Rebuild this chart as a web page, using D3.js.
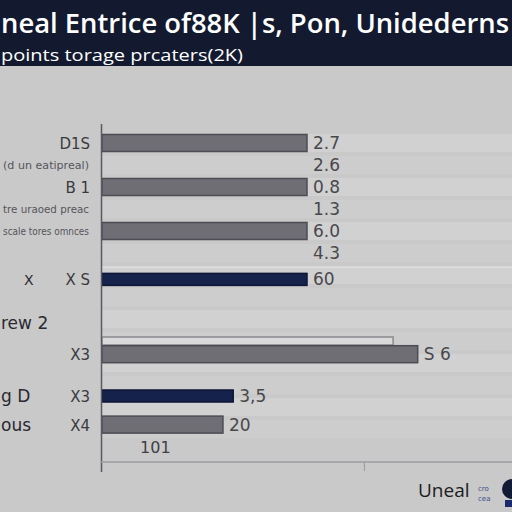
<!DOCTYPE html>
<html>
<head>
<meta charset="utf-8">
<script src="https://cdn.jsdelivr.net/npm/d3@7"></script>
<style>
  html, body { margin: 0; padding: 0; background: #c9c9c9; }
  svg { display: block; font-family: "DejaVu Sans", sans-serif; }
</style>
</head>
<body>
<svg id="chart" width="512" height="512"></svg>
<script>
// chart data
var categories = ["D1S", "(d un eatipreal)", "B 1", "tre uraoed preac", "scale tores omnces", "", "X S", "", "X3", "X3", "X4"];
var rowIndex   = [0, 1, 2, 3, 4, 5, 6.2, 9.0, 9.6, 11.5, 12.8];
var barValues  = [5.0, null, 5.0, null, 5.0, null, 5.0, 7.1, 7.7, 3.2, 2.95];
var barKinds   = ["grey", "none", "grey", "none", "grey", "none", "navy", "light", "grey", "navy", "grey"];
var smallLabel = [false, true, false, true, true, false, false, false, false, false, false];
var valueLabels = ["2.7", "2.6", "0.8", "1.3", "6.0", "4.3", "60", "", "S 6", "3,5", "20"];
var sideNotes  = [{row: 6.2, text: "X"}, {row: 8.2, text: "rew 2"}, {row: 11.5, text: "g D"}, {row: 12.8, text: "ous"}];
var bottomNote = {row: 13.8, value: 1.3, text: "101"};
var xTicks = [6.4];

var svg = d3.select("#chart");
var W = 512, H = 512;

var x = d3.scaleLinear().domain([0, 10]).range([102, 512]);
var y = d3.scaleLinear().domain([0, 1]).range([143, 165]);

// background
svg.append("rect").attr("width", W).attr("height", H).attr("fill", "#c9c9c9");

// light row stripes
var stripes = d3.range(0, 14, 1);
svg.append("g").selectAll("rect").data(stripes).enter().append("rect")
  .attr("x", 102).attr("width", W - 102)
  .attr("y", function (d) { return y(d) - 9; })
  .attr("height", 18)
  .attr("fill", function (d, i) { return i % 2 ? "#cdcdcd" : "#d1d1d1"; });

// header band
svg.append("rect").attr("x", 0).attr("y", 0).attr("width", W).attr("height", 66).attr("fill", "#131a30");
svg.append("text").attr("x", 1).attr("y", 33)
  .attr("fill", "#ffffff").attr("font-size", 27).attr("font-weight", 600)
  .attr("font-family", "'Open Sans', sans-serif")
  .attr("textLength", 508).attr("lengthAdjust", "spacingAndGlyphs")
  .text("neal Entrice of88K |s, Pon, Unidederns");
svg.append("text").attr("x", 1).attr("y", 61)
  .attr("fill", "#ffffff").attr("font-size", 17)
  .attr("font-family", "'Open Sans', sans-serif")
  .attr("textLength", 242).attr("lengthAdjust", "spacingAndGlyphs")
  .text("points torage prcaters(2K)");

// separator line above navy row
svg.append("line").attr("x1", 102).attr("x2", W)
  .attr("y1", y(5.65)).attr("y2", y(5.65))
  .attr("stroke", "#dedede").attr("stroke-width", 1.5);

// bars
var rows = categories.map(function (c, i) {
  return {cat: c, row: rowIndex[i], v: barValues[i], kind: barKinds[i], label: valueLabels[i], small: smallLabel[i]};
});
var fills = {grey: "#6e6e74", navy: "#14224c", light: "#dadada"};
var strokes = {grey: "#4c4c55", navy: "#0c1636", light: "#8a8a90"};
var heights = {grey: 17, navy: 12, light: 8};

svg.append("g").selectAll("rect").data(rows.filter(function (d) { return d.v != null; }))
  .enter().append("rect")
  .attr("x", x(0))
  .attr("y", function (d) { return y(d.row) - heights[d.kind] / 2; })
  .attr("width", function (d) { return x(d.v) - x(0); })
  .attr("height", function (d) { return heights[d.kind]; })
  .attr("fill", function (d) { return fills[d.kind]; })
  .attr("stroke", function (d) { return strokes[d.kind]; })
  .attr("stroke-width", 1.5);

// value labels
svg.append("g").selectAll("text").data(rows.filter(function (d) { return d.label; }))
  .enter().append("text")
  .attr("x", function (d) { return d.v != null ? x(d.v) + 6 : x(5) + 6; })
  .attr("y", function (d) { return y(d.row) + 6; })
  .attr("fill", "#48484c").attr("font-size", 17)
  .text(function (d) { return d.label; });

// category labels
svg.append("g").selectAll("text").data(rows.filter(function (d) { return d.cat; }))
  .enter().append("text")
  .attr("x", function (d) { return d.small ? 89 : 90; })
  .attr("y", function (d) { return y(d.row) + (d.small ? 4 : 6); })
  .attr("text-anchor", "end")
  .attr("fill", function (d) { return d.small ? "#55555c" : "#3a3a40"; })
  .attr("font-size", function (d) { return d.small ? 11 : 15; })
  .each(function (d) {
    if (d.small) d3.select(this).attr("textLength", 86).attr("lengthAdjust", "spacingAndGlyphs");
  })
  .text(function (d) { return d.cat; });

// side notes on far left
svg.append("g").selectAll("text").data(sideNotes).enter().append("text")
  .attr("x", function (d) { return d.text === "X" ? 24 : 1; })
  .attr("y", function (d) { return y(d.row) + 6; })
  .attr("fill", "#2a2a30")
  .attr("font-size", function (d) { return d.text === "X" ? 14 : 17; })
  .text(function (d) { return d.text; });

svg.append("text").attr("x", x(bottomNote.value)).attr("y", y(bottomNote.row) + 6)
  .attr("text-anchor", "middle").attr("fill", "#3f3f44").attr("font-size", 16)
  .text(bottomNote.text);

// axes
svg.append("line").attr("x1", 101.5).attr("x2", 101.5).attr("y1", 124).attr("y2", 472)
  .attr("stroke", "#5a5a62").attr("stroke-width", 1.5);
var axisY = 462;
svg.append("line").attr("x1", 101).attr("x2", W).attr("y1", axisY).attr("y2", axisY)
  .attr("stroke", "#9a9aa0").attr("stroke-width", 1.5);
svg.append("g").selectAll("line").data(xTicks).enter().append("line")
  .attr("x1", function (d) { return x(d); }).attr("x2", function (d) { return x(d); })
  .attr("y1", axisY).attr("y2", axisY + 9)
  .attr("stroke", "#9a9aa0");

// logo
svg.append("text").attr("x", 418).attr("y", 497)
  .attr("fill", "#1c1c22").attr("font-size", 19).attr("font-family", "'Open Sans', sans-serif")
  .text("Uneal");
svg.append("text").attr("x", 478).attr("y", 491).attr("fill", "#3b4d8c").attr("font-size", 7).text("cro");
svg.append("text").attr("x", 478).attr("y", 501).attr("fill", "#3b4d8c").attr("font-size", 7).text("cea");
svg.append("circle").attr("cx", 512).attr("cy", 489).attr("r", 10).attr("fill", "#121a36");
svg.append("rect").attr("x", 505).attr("y", 500).attr("width", 7).attr("height", 7).attr("fill", "#1a2a6a");
</script>
</body>
</html>
